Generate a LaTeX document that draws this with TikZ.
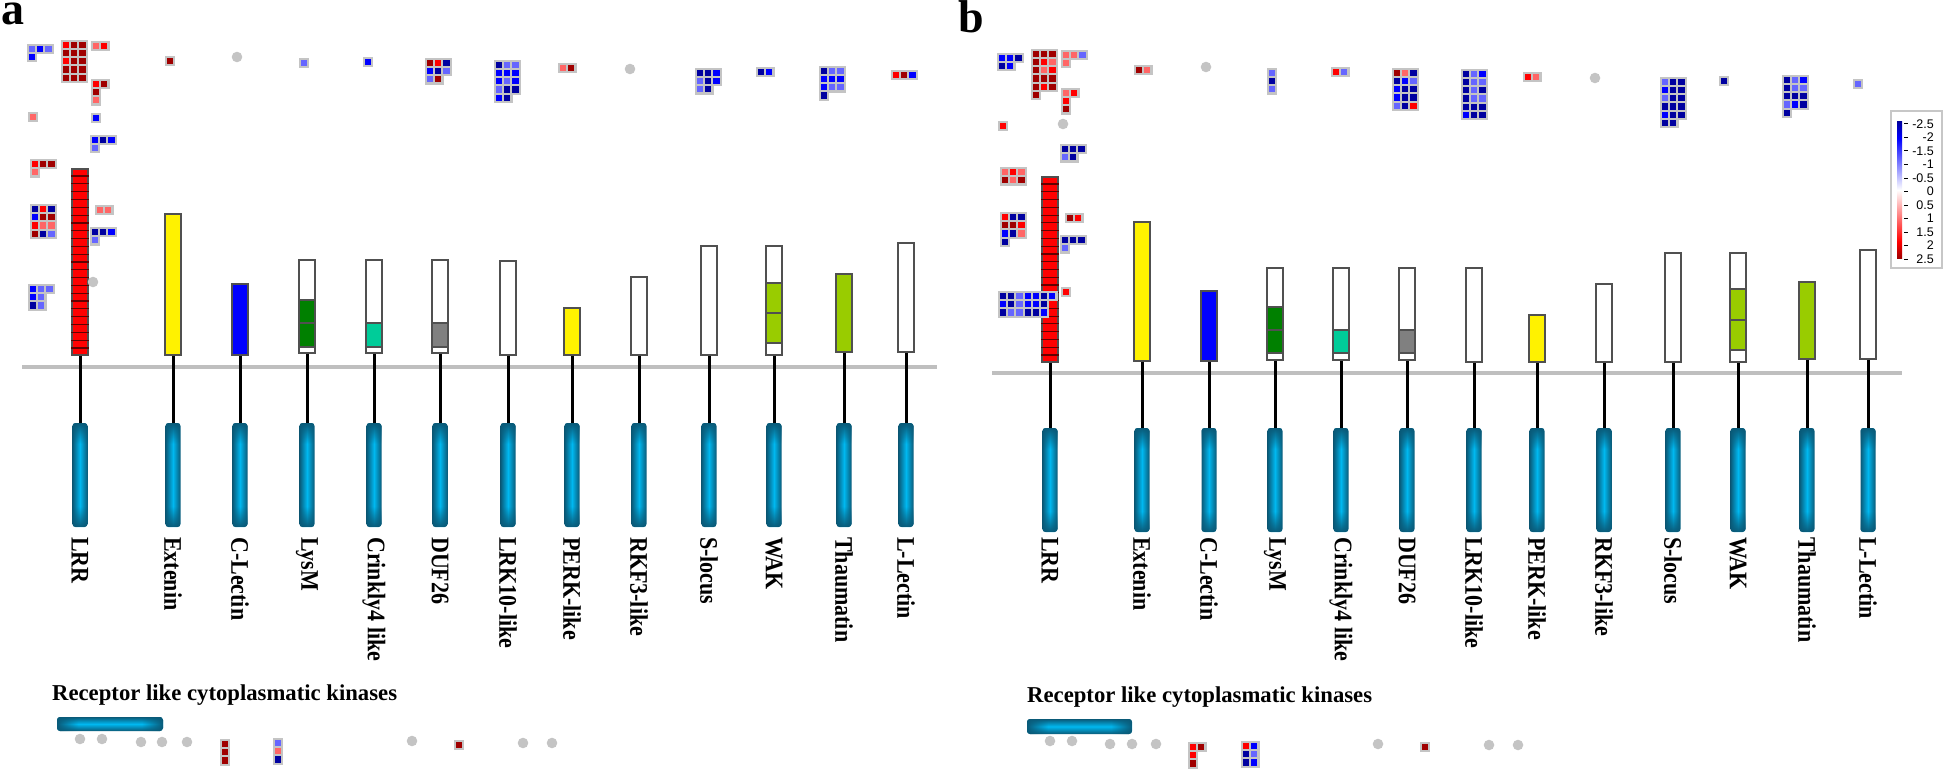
\documentclass[tikz,border=0pt]{standalone}
\usepackage{fontspec}
\setmainfont{Liberation Serif}
\newfontfamily\legendfont{Liberation Sans}
\usetikzlibrary{calc,fadings}

\definecolor{hDB}{HTML}{0000A0}
\definecolor{hB}{HTML}{0000FF}
\definecolor{hLB}{HTML}{6666FF}
\definecolor{hDR}{HTML}{A00000}
\definecolor{hR}{HTML}{FF0000}
\definecolor{hLR}{HTML}{FF6666}
\definecolor{hgrid}{HTML}{C4C4C4}
\definecolor{kdark}{HTML}{0A5A78}
\definecolor{klight}{HTML}{00B8F0}
\definecolor{domline}{HTML}{505050}
\definecolor{lrrline}{HTML}{600000}
\definecolor{lysm}{HTML}{008000}
\definecolor{crink}{HTML}{00CC99}
\definecolor{wak}{HTML}{99CC00}

% darker ends of the kinase bars
\pgfdeclareverticalshading{kinmaskv}{100bp}{color(0bp)=(white); color(25bp)=(white);
  color(35bp)=(black); color(65bp)=(black); color(75bp)=(white); color(100bp)=(white)}
\pgfdeclarehorizontalshading{kinmaskh}{100bp}{color(0bp)=(white); color(25bp)=(white);
  color(35bp)=(black); color(65bp)=(black); color(75bp)=(white); color(100bp)=(white)}
\pgfdeclarefading{kinfadev}{\pgfuseshading{kinmaskv}}
\pgfdeclarefading{kinfadeh}{\pgfuseshading{kinmaskh}}
\pgfdeclareverticalshading{heatbar}{100bp}{color(0bp)=(hDR); color(25bp)=(hDR);
  color(31bp)=(hR); color(50bp)=(white); color(69bp)=(hB); color(75bp)=(hDB); color(100bp)=(hDB)}

\tikzset{
  membrane/.style={draw=black!25, line width=3.5},
  stem/.style={line width=3},
  dombox/.style={draw=domline, line width=1.5, minimum width=16, inner sep=0},
  kinbar/.style={rounded corners=3, inner sep=0, minimum width=15, minimum height=104,
    left color=kdark, right color=kdark, middle color=klight,
    path picture={\fill[kdark, path fading=kinfadev]
      (path picture bounding box.south west) rectangle (path picture bounding box.north east);}},
  kinbarh/.style={rounded corners=3, inner sep=0, minimum width=106, minimum height=14,
    top color=kdark, bottom color=kdark, middle color=klight,
    path picture={\fill[kdark, path fading=kinfadeh]
      (path picture bounding box.south west) rectangle (path picture bounding box.north east);}},
  rlab/.style={rotate=-90, yscale=1.15, anchor=west, inner sep=0,
    font=\fontsize{22}{22}\selectfont\bfseries},
  title/.style={anchor=base west, inner sep=0, font=\fontsize{22.7}{24}\selectfont\bfseries},
  panel/.style={anchor=base west, inner sep=0, font=\fontsize{46}{46}\selectfont\bfseries},
  legbox/.style={draw=black!22, line width=1.2, minimum width=51, minimum height=157, inner sep=0},
  leglab/.style={anchor=east, inner sep=0, font=\legendfont\fontsize{12.5}{12.5}\selectfont}
}

% one receptor: domain, stem, kinase, name
\newcommand\receptor[7]{%
  \node[dombox, fill=#5, minimum height={#4-#3}] (#1) at (#2,{(#3+#4)/2}) {};
  \node[kinbar] (#1k) at (#2,{#6+52}) {};
  \draw[stem] (#1.south) -- (#1k.north);
  \node[rlab] (#1t) at (#2,537) {#7};
}
% coloured part of a domain
\newcommand\domseg[4]{%
  \filldraw[fill=#4, draw=domline, line width=1.5] ({#1-8},#2) rectangle ({#1+8},#3);
}
% expression cells, first cell centre and rows
\newcommand\hmap[3]{%
  \foreach \row [count=\j from 0] in {#3}{
    \foreach \cc [count=\i from 0] in \row
      \fill[hgrid] ({#1+8.2*\i-5.3},{#2+8.2*\j-5.3}) rectangle ++(10.6,10.6);}
  \foreach \row [count=\j from 0] in {#3}{
    \foreach \cc [count=\i from 0] in \row
      \fill[fill=h\cc] ({#1+8.2*\i-3.1},{#2+8.2*\j-3.1}) rectangle ++(6.2,6.2);}
}
\newcommand\graydot[2]{\fill[hgrid] (#1,#2) circle (5.3pt);}

\begin{document}
\begin{tikzpicture}[x=1pt,y=-1pt]
\useasboundingbox (0,0) rectangle (1946,773);

% ---------------- panel a
\node[panel, text height=21] (pa) at (1,25) {a};
\draw[membrane] (22,367) -- (937,367);
\foreach \n/\x/\t/\b/\f/\l in {LRR/80/169/355/hR/LRR, Ext/173/214/355/yellow/Extenin,
  CLec/240/284/355/hB/C-Lectin, LysM/307/260/353/white/LysM, Crk/374/260/353/white/Crinkly4 like,
  DUF/440/260/353/white/DUF26, LRK/508/261/355/white/LRK10-like, PERK/572/308/355/yellow/PERK-like,
  RKF/639/277/355/white/RKF3-like, Slo/709/246/355/white/S-locus, WAK/774/246/355/white/WAK,
  Tha/844/274/352/wak/Thaumatin, LLe/906/243/352/white/L-Lectin}
  {\receptor{a\n}{\x}{\t}{\b}{\f}{423}{\l}}
\foreach \k in {1,...,23}
  \draw[lrrline, line width=1.2] ($(aLRR.north west)!\k/24!(aLRR.south west)$) -- ($(aLRR.north east)!\k/24!(aLRR.south east)$);
\domseg{307}{300}{323}{lysm} \domseg{307}{323}{347}{lysm}
\domseg{374}{323}{347}{crink}
\domseg{440}{323}{347}{gray}
\domseg{774}{283}{313}{wak} \domseg{774}{313}{343}{wak}

\hmap{32}{49}{{LB,B,LB},{B}}
\hmap{66}{45}{{R,DR,DR},{DR,DR,DR},{R,DR,DR},{DR,DR,DR},{DR,DR,DR}}
\hmap{96}{46}{{LR,R}}
\hmap{96}{84}{{R,DR},{DR},{LR}}
\hmap{33}{117}{{LR}}
\hmap{96}{118}{{B}}
\hmap{95}{140}{{B,DB,B},{LB}}
\hmap{35}{164}{{R,DR,DR},{LR}}
\hmap{35}{209}{{DB,R,DB},{B,DR,DR},{R,LR,LR},{DR,DB,LB}}
\hmap{100}{210}{{LR,LR}}
\hmap{95}{232}{{DB,DB,B},{LB}}
\graydot{93}{282}
\hmap{33}{289}{{B,LB,LB},{B,LB},{DB,LB}}
\hmap{170}{61}{{DR}}
\graydot{237}{57}
\hmap{304}{63}{{LB}}
\hmap{368}{62}{{B}}
\hmap{430}{63}{{DR,R,DB},{B,DB,LB},{LB,DR}}
\hmap{499}{65}{{DB,LB,LB},{B,B,B},{B,LB,B},{LB,DB,DB},{B,DB}}
\hmap{563}{68}{{LR,DR}}
\graydot{630}{69}
\hmap{700}{73}{{DB,DB,B},{LB,DB,B},{LB,DB}}
\hmap{761}{72}{{DB,B}}
\hmap{824}{71}{{DB,LB,LB},{B,B,B},{B,LB,LB},{DB}}
\hmap{896}{75}{{R,DR,B}}

\node[title] (arlck) at (52,700) {Receptor like cytoplasmatic kinases};
\node[kinbarh] (arlckbar) at (110,724) {};
\foreach \x/\y in {80/739, 102/739, 141/742, 162/742, 187/742, 412/741, 523/743, 552/743}
  {\graydot{\x}{\y}}
\hmap{225}{744}{{DR},{DR},{DR}}
\hmap{278}{743}{{LB},{LR},{DB}}
\hmap{459}{745}{{DR}}

% ---------------- panel b
\node[panel] (pb) at (958,33) {b};
\draw[membrane] (992,373) -- (1902,373);
\foreach \n/\x/\t/\b/\f/\l in {LRR/1050/177/362/hR/LRR, Ext/1142/222/361/yellow/Extenin,
  CLec/1209/291/361/hB/C-Lectin, LysM/1275/268/360/white/LysM, Crk/1341/268/360/white/Crinkly4 like,
  DUF/1407/268/360/white/DUF26, LRK/1474/268/362/white/LRK10-like, PERK/1537/315/362/yellow/PERK-like,
  RKF/1604/284/362/white/RKF3-like, Slo/1673/253/362/white/S-locus, WAK/1738/253/362/white/WAK,
  Tha/1807/282/359/wak/Thaumatin, LLe/1868/250/359/white/L-Lectin}
  {\receptor{b\n}{\x}{\t}{\b}{\f}{428}{\l}}
\foreach \k in {1,...,23}
  \draw[lrrline, line width=1.2] ($(bLRR.north west)!\k/24!(bLRR.south west)$) -- ($(bLRR.north east)!\k/24!(bLRR.south east)$);
\domseg{1275}{307}{330}{lysm} \domseg{1275}{330}{353}{lysm}
\domseg{1341}{330}{353}{crink}
\domseg{1407}{330}{353}{gray}
\domseg{1738}{289}{320}{wak} \domseg{1738}{320}{350}{wak}

\hmap{1002}{58}{{B,B,DB},{DB,B}}
\hmap{1036}{54}{{DR,DR,DR},{DR,R,LR},{DR,LR,R},{DR,DR,DR},{DR,R,DR},{DR}}
\hmap{1066}{55}{{LR,LR,LB},{LR}}
\hmap{1066}{93}{{LR,R},{R},{DR}}
\hmap{1003}{126}{{R}}
\graydot{1063}{124}
\hmap{1065}{149}{{DB,DB,DB},{LB,DB}}
\hmap{1005}{172}{{LR,R,LR},{DR,LR,DR}}
\hmap{1005}{217}{{R,DB,DB},{DR,DR,R},{B,DB,LR},{DB}}
\hmap{1070}{218}{{DR,R}}
\hmap{1065}{240}{{DB,DB,DB},{LB}}
\hmap{1003}{296}{{DB,DB,LB,B,B,DB,B},{B,DB,LB,B,B,DB},{DB,LB,LB,DB,DB,B}}
\hmap{1066}{292}{{R}}
\hmap{1139}{70}{{DR,LR}}
\graydot{1206}{67}
\hmap{1272}{73}{{LB},{DB},{LB}}
\hmap{1336}{72}{{R,LB}}
\hmap{1397}{73}{{DR,LR,DB},{DB,B,LB},{B,DB,DB},{B,DB,DB},{LB,DB,R}}
\hmap{1466}{74}{{DB,LB,B},{DB,LB,LB},{DB,LB,DB},{DB,LB,LB},{DB,DB,DB},{B,DB,DB}}
\hmap{1528}{77}{{R,LR}}
\graydot{1595}{78}
\hmap{1665}{82}{{LB,DB,DB},{B,DB,DB},{LB,DB,DB},{DB,DB,DB},{B,DB,DB},{DB,DB}}
\hmap{1724}{81}{{DB}}
\hmap{1787}{80}{{DB,LB,B},{DB,LB,LB},{DB,DB,DB},{LB,B,DB},{DB}}
\hmap{1858}{84}{{LB}}

\node[title] (brlck) at (1027,702) {Receptor like cytoplasmatic kinases};
\node[kinbarh, minimum width=105, minimum height=15] (brlckbar) at (1079.5,726.5) {};
\foreach \x/\y in {1050/741, 1072/741, 1110/744, 1132/744, 1156/744, 1378/744, 1489/745, 1518/745}
  {\graydot{\x}{\y}}
\hmap{1193}{747}{{R,DR},{R},{DR}}
\hmap{1246}{746}{{R,B},{DB,LB},{DB,B}}
\hmap{1425}{747}{{DR}}

% ---------------- colour key
\node[legbox] (legend) at (1916.5,189.5) {};
\shade[shading=heatbar] (1897,122) rectangle (1902,258);
\foreach \v [count=\k from 0] in {-2.5,-2,-1.5,-1,-0.5,0,0.5,1,1.5,2,2.5}{
  \draw[line width=1] (1904,{124+13.5*\k}) -- (1908,{124+13.5*\k});
  \node[leglab] at (1934,{124+13.5*\k}) {\v};}
\end{tikzpicture}
\end{document}
